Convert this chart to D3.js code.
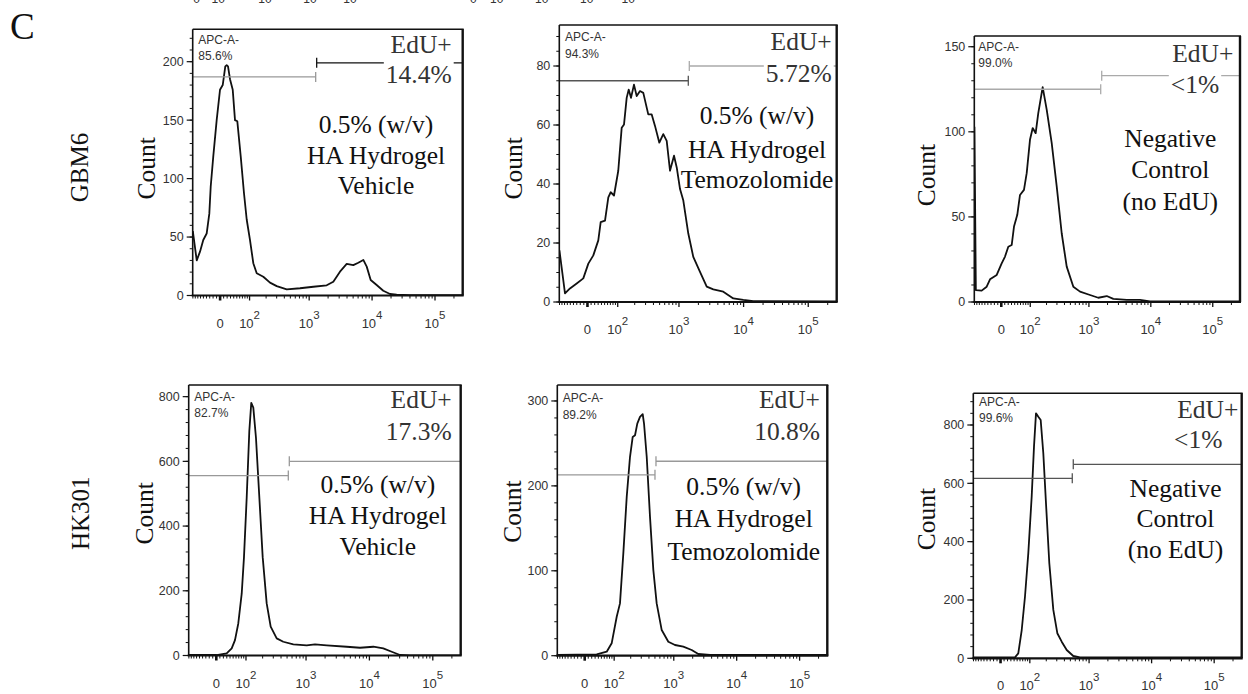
<!DOCTYPE html>
<html><head><meta charset="utf-8">
<script src="https://cdn.jsdelivr.net/npm/d3@7"></script>
<style>body{margin:0;background:#fff} svg{display:block}</style>
</head><body>
<svg id="c" width="1248" height="694"></svg>
<script>
// ================= DATA =================
const figureLetter = "C";
const rowLabels = ["GBM6", "HK301"];
const axisTitle = "Count";
const negGateName = "APC-A-";
const posGateName = "EdU+";
const conditionText = [
  ["0.5% (w/v)", "HA Hydrogel", "Vehicle"],
  ["0.5% (w/v)", "HA Hydrogel", "Temozolomide"],
  ["Negative", "Control", "(no EdU)"],
  ["0.5% (w/v)", "HA Hydrogel", "Vehicle"],
  ["0.5% (w/v)", "HA Hydrogel", "Temozolomide"],
  ["Negative", "Control", "(no EdU)"]
];
const negGatePercents = ["85.6%", "94.3%", "99.0%", "82.7%", "89.2%", "99.6%"];
const posGatePercents = ["14.4%", "5.72%", "<1%", "17.3%", "10.8%", "<1%"];
// gate threshold in display decades (logicle-like units), gate heights in counts
const gateThresholds = [3.104, 3.145, 3.191, 2.721, 2.702, 2.732];
const negGateHeights = [187, 75, 125, 556, 213, 617];
const posGateHeights = [199, 80, 133, 600, 229, 665];
// y axes
const yTickValues = [
  [0, 50, 100, 150, 200],
  [0, 20, 40, 60, 80],
  [0, 50, 100, 150],
  [0, 200, 400, 600, 800],
  [0, 100, 200, 300],
  [0, 200, 400, 600, 800]
];
const yMinorSteps = [10, 5, 10, 40, 20, 40];
const yMaxValues = [227.7, 93.9, 156.3, 836, 318.8, 908.7];
// x axis (intensity values and labels)
const xDomainDecades = [1.15, 5.44];
const xMajorTicks = [0, 100, 1000, 10000, 100000];
const xMajorLabels = [["0", ""], ["10", "2"], ["10", "3"], ["10", "4"], ["10", "5"]];
const clippedTopLabels = ["0", "10", "10", "10", "10", "0", "10", "10", "10", "10"];

// histograms: [display decade, count]
const histGBM6Vehicle = [
  [1.152,55],[1.214,30],[1.266,37.5],[1.318,47.5],[1.372,53],[1.414,70],[1.436,93],[1.477,119],
  [1.531,150],[1.584,176],[1.627,180],[1.668,196],[1.690,197],[1.711,196],[1.743,185],[1.786,176],
  [1.822,150],[1.859,149],[1.913,119],[1.965,87.5],[2.008,65],[2.060,47.5],[2.113,27.6],[2.167,19],
  [2.272,16],[2.378,11],[2.485,8],[2.644,5.3],[2.855,6.2],[3.067,7.5],[3.279,8.7],[3.384,11.8],
  [3.490,20.4],[3.597,27],[3.702,26],[3.781,28],[3.861,30.4],[3.915,24.7],[3.978,13.3],[4.073,9],
  [4.178,4.1],[4.285,1.3],[4.391,0.7],[4.6,0.3],[5.44,0.2]
];
const histGBM6Temozolomide = [
  [1.152,17.5],[1.238,2.9],[1.315,4.6],[1.419,6.3],[1.521,8],[1.599,13],[1.676,15.8],[1.753,20.9],
  [1.790,27.1],[1.857,27.6],[1.908,35.5],[1.945,37.2],[1.996,36.1],[2.062,44.5],[2.115,59.1],[2.151,60.2],
  [2.192,69.2],[2.223,72],[2.259,69.2],[2.305,73.7],[2.347,69.8],[2.398,71.5],[2.449,70.9],[2.526,63.6],
  [2.579,63.6],[2.630,59.7],[2.697,54],[2.758,56.9],[2.811,54.6],[2.862,44.5],[2.924,49.6],[2.966,45.6],
  [3.017,38.3],[3.068,34.4],[3.145,23.2],[3.222,15.3],[3.326,10.2],[3.430,5.2],[3.532,4.3],[3.686,3.5],
  [3.841,1.2],[3.996,0.7],[4.150,0.3],[5.44,0.2]
];
const histGBM6Negative = [
  [1.152,103],[1.175,7],[1.269,6.7],[1.350,9],[1.404,13.3],[1.512,15.9],[1.592,22.7],[1.646,26.7],
  [1.699,32.5],[1.754,33.5],[1.791,44.3],[1.844,51.2],[1.888,62.9],[1.952,65.9],[1.996,75.7],[2.049,95.3],
  [2.093,102.2],[2.141,99.2],[2.183,111],[2.254,126.3],[2.319,113],[2.400,93.4],[2.481,67.8],[2.561,40.4],
  [2.642,20.8],[2.749,9],[2.857,6.1],[3.018,4.1],[3.152,2.5],[3.288,3.5],[3.395,1.8],[3.611,1.2],
  [3.826,1.2],[3.987,0.4],[4.148,0.4],[5.44,0.3]
];
const histHK301Vehicle = [
  [1.152,1.5],[1.592,1.5],[1.749,6.7],[1.828,22],[1.880,47.7],[1.932,99],[1.986,191],[2.022,304],
  [2.065,489],[2.106,694],[2.137,781],[2.169,766],[2.211,673],[2.264,489],[2.317,304],[2.380,161],
  [2.443,89],[2.538,53],[2.642,42.5],[2.800,34.5],[3.011,31.4],[3.142,34.5],[3.327,31.4],[3.642,27.1],
  [3.852,24],[4.062,27.1],[4.219,22],[4.352,11.7],[4.483,1.5],[4.641,0.5],[5.44,0.5]
];
const histHK301Temozolomide = [
  [1.152,0.8],[1.776,1.6],[1.935,4.7],[2.014,14.6],[2.094,45.9],[2.146,61.6],[2.199,120.5],[2.253,187],
  [2.305,234],[2.348,257.6],[2.385,259.6],[2.421,273.4],[2.464,281.2],[2.507,284.4],[2.528,273.4],[2.571,234],
  [2.623,163.5],[2.676,100.8],[2.729,61.6],[2.809,30.2],[2.914,16.5],[3.020,12.6],[3.152,10.6],[3.285,6.7],
  [3.390,2],[3.576,0.8],[5.44,0.8]
];
const histHK301Negative = [
  [1.152,3.4],[1.817,3.4],[1.869,17],[1.924,97],[1.976,211],[2.029,360],[2.083,554],[2.120,725],
  [2.152,840],[2.189,828],[2.227,817],[2.269,703],[2.312,531],[2.365,326],[2.429,166],[2.493,86],
  [2.563,57],[2.643,28.5],[2.748,7.9],[2.856,3.4],[5.44,3.4]
];
const histograms = [histGBM6Vehicle, histGBM6Temozolomide, histGBM6Negative,
                    histHK301Vehicle, histHK301Temozolomide, histHK301Negative];

// ================= LAYOUT / STYLE =================
const layout = [
  {l:192.7,r:462.7,t:29.3,b:295.5, count:[155,168.3], apc:[198.3,44,60], edu:[451.7,52.7,"end"], pct:[451.7,83.3,"end"], cond:[376,133.3,164,194], negC:"#999", posC:"#111", knock:true},
  {l:559.3,r:836.7,t:25,b:302, count:[521.5,168.3], apc:[565,40.5,58], edu:[831.7,50,"end"], pct:[831.7,81.7,"end"], cond:[757,124,157.7,188.3], negC:"#555", posC:"#aaa", knock:true},
  {l:974.3,r:1240,t:36,b:302, count:[934.5,175], apc:[978.3,50.5,67], edu:[1233.3,61.7,"end"], pct:[1195,93.3,"middle"], cond:[1170.3,146.7,178.3,210], negC:"#aaa", posC:"#aaa", knock:true},
  {l:188.7,r:460.7,t:385,b:655.5, count:[153,513.3], apc:[194.3,400.5,417], edu:[451.7,408.3,"end"], pct:[451.7,440,"end"], cond:[377.8,493.3,524,555], negC:"#999", posC:"#999", knock:false},
  {l:557.3,r:827.3,t:385,b:655.7, count:[521,511.7], apc:[562.7,402,419], edu:[820,408.3,"end"], pct:[820,440,"end"], cond:[743.7,495,526.7,560], negC:"#999", posC:"#999", knock:false},
  {l:973.3,r:1241.7,t:393.3,b:658.3, count:[934.5,519], apc:[979,405.5,421.5], edu:[1238.3,418.3,"end"], pct:[1198.3,448.3,"middle"], cond:[1175.5,496.7,526.7,558.3], negC:"#555", posC:"#555", knock:false}
];
const rowLabelPos = [[88,167.5],[89,513.3]];
const clippedTopX = [196.7,218.3,265,310,350,473.3,496.7,541.7,586.7,628.3];
const SERIF = "'Liberation Serif','Times New Roman',serif";
const SANS = "'Liberation Sans',Arial,sans-serif";

// logicle-like display transform (intensity -> display decades)
const W = 38.5;
const toDecades = v => Math.asinh(v / (2 * W)) / Math.LN10 + Math.log10(W);

// minor x ticks (intensities)
const xMinorTicks = [];
for (let k = 1; k <= 10; k++) { xMinorTicks.push(-10 * k); }
for (let k = 1; k <= 9; k++) { xMinorTicks.push(10 * k); }
[100, 1000, 10000].forEach(p => { for (let m = 2; m <= 9; m++) xMinorTicks.push(m * p); });
xMinorTicks.push(200000);

// ================= DRAW =================
const svg = d3.select("#c");
svg.append("rect").attr("width", 1248).attr("height", 694).attr("fill", "#fff");

// clipped labels at very top (remnants of the panel above, cut by the figure edge)
svg.append("g").selectAll("text").data(clippedTopLabels).join("text")
  .attr("x", (d, i) => clippedTopX[i]).attr("y", 3)
  .attr("text-anchor", "middle").attr("font-family", SANS).attr("font-size", 12)
  .attr("fill", "#333").text(d => d);

svg.append("text").attr("x", 10).attr("y", 39).attr("font-family", SERIF)
  .attr("font-size", 37).attr("fill", "#111").text(figureLetter);

rowLabels.forEach((t, i) => {
  svg.append("text")
    .attr("transform", `translate(${rowLabelPos[i][0]},${rowLabelPos[i][1]}) rotate(-90)`)
    .attr("text-anchor", "middle").attr("font-family", SERIF).attr("font-size", 25)
    .attr("fill", "#111").text(t);
});

layout.forEach((L, i) => {
  const g = svg.append("g");
  const x = d3.scaleLinear().domain(xDomainDecades).range([L.l, L.r]);
  const y = d3.scaleLinear().domain([0, yMaxValues[i]]).range([L.b, L.t]);
  const clipId = "clip" + i;
  svg.append("clipPath").attr("id", clipId).append("rect")
    .attr("x", L.l).attr("y", L.t).attr("width", L.r - L.l).attr("height", L.b - L.t);

  // histogram
  const line = d3.line().x(d => x(d[0])).y(d => y(d[1]));
  g.append("path").datum(histograms[i]).attr("d", line)
    .attr("fill", "none").attr("stroke", "#111").attr("stroke-width", 1.8)
    .attr("stroke-linejoin", "round").attr("clip-path", `url(#${clipId})`);

  // gates
  const thr = x(gateThresholds[i]);
  const ny = y(negGateHeights[i]), py = y(posGateHeights[i]);
  g.append("line").attr("x1", L.l).attr("x2", thr).attr("y1", ny).attr("y2", ny)
    .attr("stroke", L.negC).attr("stroke-width", 1.3);
  g.append("line").attr("x1", thr).attr("x2", thr).attr("y1", ny - 5).attr("y2", ny + 5)
    .attr("stroke", L.negC).attr("stroke-width", 1.3);
  g.append("line").attr("x1", thr + 1).attr("x2", L.r).attr("y1", py).attr("y2", py)
    .attr("stroke", L.posC).attr("stroke-width", 1.3);
  g.append("line").attr("x1", thr + 1).attr("x2", thr + 1).attr("y1", py - 5).attr("y2", py + 5)
    .attr("stroke", L.posC).attr("stroke-width", 1.3);

  // frame
  g.append("line").attr("x1", L.l).attr("x2", L.r + 1).attr("y1", L.t).attr("y2", L.t).attr("stroke", "#111").attr("stroke-width", 1.6);
  g.append("line").attr("x1", L.r).attr("x2", L.r).attr("y1", L.t).attr("y2", L.b).attr("stroke", "#111").attr("stroke-width", 2.4);
  g.append("line").attr("x1", L.l).attr("x2", L.l).attr("y1", L.t).attr("y2", L.b).attr("stroke", "#111").attr("stroke-width", 1.6);
  g.append("line").attr("x1", L.l - 1).attr("x2", L.r + 1).attr("y1", L.b).attr("y2", L.b).attr("stroke", "#111").attr("stroke-width", 2.2);

  // y ticks
  const minor = d3.range(0, yMaxValues[i] + 0.001, yMinorSteps[i]);
  g.append("g").selectAll("line").data(minor).join("line")
    .attr("x1", L.l - 3).attr("x2", L.l).attr("y1", d => y(d)).attr("y2", d => y(d))
    .attr("stroke", "#111").attr("stroke-width", 1);
  g.append("g").selectAll("line").data(yTickValues[i]).join("line")
    .attr("x1", L.l - 6).attr("x2", L.l).attr("y1", d => y(d)).attr("y2", d => y(d))
    .attr("stroke", "#111").attr("stroke-width", 1.2);
  g.append("g").selectAll("text").data(yTickValues[i]).join("text")
    .attr("x", L.l - 9).attr("y", d => y(d)).attr("dy", "0.35em")
    .attr("text-anchor", "end").attr("font-family", SANS).attr("font-size", 12.5)
    .attr("fill", "#333").text(d => d);

  // x ticks
  const dom = xDomainDecades;
  g.append("g").selectAll("line").data(xMinorTicks.filter(v => toDecades(v) > dom[0] && toDecades(v) < dom[1])).join("line")
    .attr("x1", v => x(toDecades(v))).attr("x2", v => x(toDecades(v)))
    .attr("y1", L.b).attr("y2", L.b + 3).attr("stroke", "#111").attr("stroke-width", 1);
  g.append("g").selectAll("line").data(xMajorTicks).join("line")
    .attr("x1", v => x(toDecades(v))).attr("x2", v => x(toDecades(v)))
    .attr("y1", L.b).attr("y2", L.b + 5).attr("stroke", "#111")
    .attr("stroke-width", v => v === 0 ? 2.6 : 1.3);
  const xl = g.append("g").selectAll("text").data(xMajorTicks).join("text")
    .attr("x", v => x(toDecades(v))).attr("y", L.b + 32)
    .attr("text-anchor", "middle").attr("font-family", SANS).attr("font-size", 13).attr("fill", "#333");
  xl.each(function(v, j) {
    const t = d3.select(this);
    t.append("tspan").text(xMajorLabels[j][0]);
    if (xMajorLabels[j][1]) t.append("tspan").attr("dy", -9).attr("font-size", 11.5).text(xMajorLabels[j][1]);
  });

  // axis title
  g.append("text").attr("transform", `translate(${L.count[0]},${L.count[1]}) rotate(-90)`)
    .attr("text-anchor", "middle").attr("font-family", SERIF).attr("font-size", 25.5)
    .attr("fill", "#111").text(axisTitle);

  // negative gate labels
  g.append("text").attr("x", L.apc[0]).attr("y", L.apc[1]).attr("font-family", SANS)
    .attr("font-size", 12).attr("fill", "#333").text(negGateName);
  g.append("text").attr("x", L.apc[0]).attr("y", L.apc[2]).attr("font-family", SANS)
    .attr("font-size", 12).attr("fill", "#333").text(negGatePercents[i]);

  // positive gate labels
  g.append("text").attr("x", L.edu[0]).attr("y", L.edu[1]).attr("text-anchor", L.edu[2])
    .attr("font-family", SERIF).attr("font-size", 25.5).attr("fill", "#333").text(posGateName);
  const pg = g.append("g");
  const pt = pg.append("text").attr("x", L.pct[0]).attr("y", L.pct[1]).attr("text-anchor", L.pct[2])
    .attr("font-family", SERIF).attr("font-size", 25.5).attr("fill", "#333").text(posGatePercents[i]);
  if (L.knock) {
    const bb = pt.node().getBBox();
    pg.insert("rect", "text").attr("x", bb.x - 2).attr("y", bb.y).attr("width", bb.width + 4)
      .attr("height", bb.height).attr("fill", "#fff");
  }

  // condition text
  conditionText[i].forEach((t, k) => {
    g.append("text").attr("x", L.cond[0]).attr("y", L.cond[k + 1]).attr("text-anchor", "middle")
      .attr("font-family", SERIF).attr("font-size", 25.5).attr("fill", "#111").text(t);
  });
});
</script>
</body></html>
